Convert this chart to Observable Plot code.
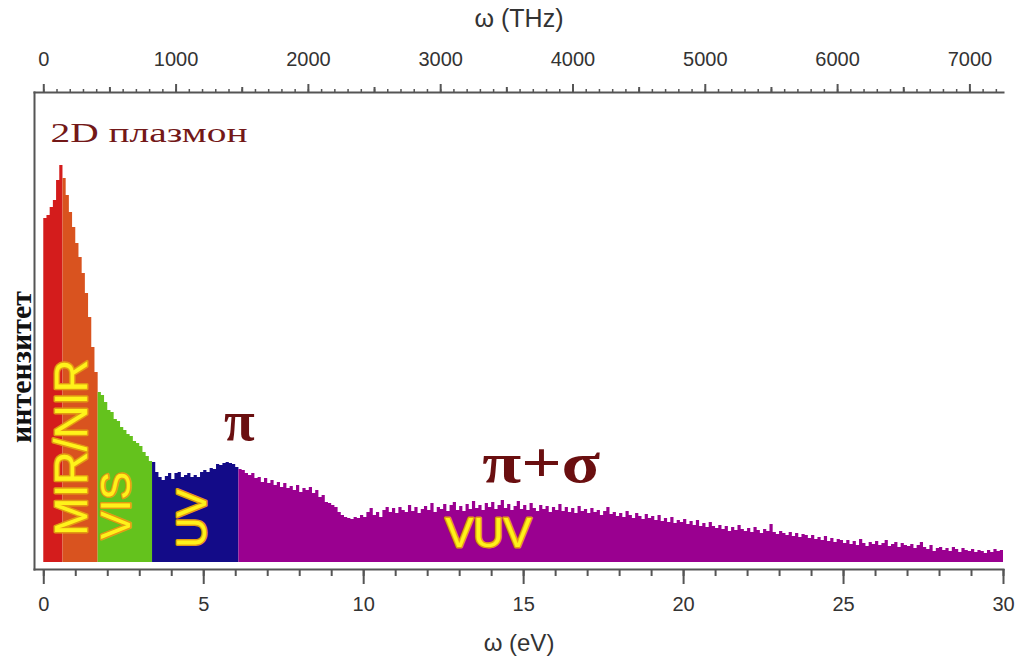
<!DOCTYPE html>
<html><head><meta charset="utf-8">
<script src="https://cdn.jsdelivr.net/npm/d3@7"></script>
<script src="https://cdn.jsdelivr.net/npm/@observablehq/plot@0.6"></script>
<style>body{margin:0;background:#fff}</style>
</head><body><div id="chart"></div>
<script>
// Spectrum intensity (arbitrary units), one value per 0.1 eV bin from 0.0 to 30.0 eV
const intensity = [
  344,347,355,362,382,397,384,367,350,335,
  319,305,289,269,245,215,190,170,167,160,
  152,150,143,141,135,132,128,126,121,119,
  116,110,106,101,100,90,85,82,86,89,
  83,89,90,85,87,89,85,87,85,90,
  92,90,94,93,98,97,99,100,99,98,
  95,93,92,89,87,89,84,85,80,84,
  79,82,77,80,75,79,74,76,72,77,
  70,74,72,75,69,72,65,67,60,59,
  57,55,50,47,45,44,43,45,44,47,
  45,50,54,47,50,45,52,55,50,54,
  49,55,52,50,57,51,55,49,53,56,
  52,59,50,55,53,58,51,57,60,52,
  56,51,58,53,61,54,57,52,59,55,
  60,53,57,62,54,58,52,56,61,53,
  57,52,59,54,51,57,53,56,50,55,
  52,58,51,55,50,54,49,56,51,53,
  49,54,50,52,47,51,55,48,50,46,
  49,45,51,47,44,49,46,43,48,44,
  46,42,47,41,44,40,45,39,42,40,
  43,38,41,37,42,36,39,35,40,36,
  34,37,33,36,31,35,32,37,33,31,
  34,30,35,32,29,33,31,38,30,28,
  31,29,27,30,26,29,25,28,27,24,
  27,23,25,22,26,21,24,20,23,22,
  19,22,18,21,17,23,19,16,20,18,
  21,17,19,22,16,18,20,15,19,17,
  16,18,14,17,20,15,13,17,11,14,
  15,12,14,11,15,13,10,14,12,11,
  13,10,12,11,9,12,10,13,11,12,
  12
];
const eV = intensity.map((_, i) => i / 10);

// Spectral regions
const regionNames  = ["MIR", "NIR", "VIS", "UV", "VUV"];
const regionStart  = [0, 0.6, 1.7, 3.4, 6.1];
const regionColors = ["#d41c1c", "#d9531f", "#64c21d", "#130b88", "#9a0090"];

// Axis ticks
const evTicks = [0, 5, 10, 15, 20, 25, 30];
const evMinor = d3.range(0, 31, 1);
const thzTicks = [0, 1000, 2000, 3000, 4000, 5000, 6000, 7000];
const thzMid = [500, 1500, 2500, 3500, 4500, 5500, 6500];
const thzMinor = d3.range(0, 7201, 100);
const THZ_PER_EV = 241.8;

// Annotations
const bandLabels = ["MIR/NIR", "VIS", "UV", "VUV"];
const bandX = [0.9, 2.27, 4.65, 13.9];
const bandY = [115, 57, 44, 29];
const bandRotate = [-90, -90, -90, 0];
const bandSize = [46, 42, 42, 42];
const peakLabels = ["π", "π+σ"];
const peakX = [6.11, 15.55];
const peakY = [140, 98];

const rows = [];
regionStart.forEach((s, r) => {
  const e = r + 1 < regionStart.length ? regionStart[r + 1] : 30;
  eV.forEach((x, i) => {
    if (x >= s - 1e-9 && x <= e + 1e-9) rows.push({eV: x, I: intensity[i], region: regionNames[r], color: regionColors[r]});
  });
});
const bands = bandLabels.map((t, i) => ({t, x: bandX[i], y: bandY[i], r: bandRotate[i], s: bandSize[i]}));
const peaks = peakLabels.map((t, i) => ({t, x: peakX[i], y: peakY[i]}));

const axisColor = "#555";
const sans = "'Liberation Sans', Arial, sans-serif";
const serif = "'Liberation Serif', 'Times New Roman', serif";

const plot = Plot.plot({
  width: 1017, height: 659,
  marginLeft: 34, marginRight: 14, marginTop: 92, marginBottom: 90,
  x: {domain: [-0.29, 30]},
  y: {domain: [-7, 470], axis: null},
  style: {fontFamily: sans, color: "#333", background: "#fff"},
  marks: [
    Plot.areaY(rows, {x: "eV", y1: 0, y2: "I", z: "region", fill: "color", curve: "step-after"}),
    Plot.frame({anchor: "left", stroke: axisColor, strokeWidth: 2}),
    Plot.frame({anchor: "top", stroke: axisColor, strokeWidth: 2}),
    Plot.frame({anchor: "bottom", stroke: axisColor, strokeWidth: 2}),
    // bottom eV axis
    Plot.axisX(evTicks, {anchor: "bottom", tickSize: 15, tickPadding: 12, fontSize: 20, stroke: axisColor, strokeWidth: 2, fill: "#333", label: null}),
    Plot.axisX(evMinor, {anchor: "bottom", tickSize: 7, tickFormat: () => "", stroke: axisColor, strokeWidth: 2, label: null}),
    Plot.text(["ω (eV)"], {frameAnchor: "bottom", lineAnchor: "middle", dy: 74, fontSize: 24, fill: "#333"}),
    // top THz axis
    Plot.axisX(thzTicks.map(t => t / THZ_PER_EV), {anchor: "top", tickSize: 9, tickPadding: 18, fontSize: 20, stroke: axisColor, strokeWidth: 2, fill: "#333", label: null, tickFormat: d => String(Math.round(d * THZ_PER_EV))}),
    Plot.axisX(thzMid.map(t => t / THZ_PER_EV), {anchor: "top", tickSize: 6, tickFormat: () => "", stroke: axisColor, strokeWidth: 2, label: null}),
    Plot.axisX(thzMinor.map(t => t / THZ_PER_EV), {anchor: "top", tickSize: 4, tickFormat: () => "", stroke: axisColor, strokeWidth: 1.5, label: null}),
    Plot.text(["ω (THz)"], {frameAnchor: "top", lineAnchor: "middle", dy: -74, fontSize: 25, fill: "#333"}),
    // y label
    Plot.text(["интензитет"], {frameAnchor: "left", textAnchor: "middle", lineAnchor: "middle", rotate: -90, dx: -13, dy: 36, fontSize: 30, fontWeight: "bold", fontFamily: serif, fill: "#111"}),
    // annotations
    Plot.text(["2D плазмон"], {x: [0.21], y: [429], textAnchor: "start", fontSize: 28, fontFamily: serif, fill: "#731818"}),
    Plot.text(peaks, {x: "x", y: "y", text: "t", fontSize: 56, fontWeight: "bold", fontFamily: serif, fill: "#6a0f10"}),
    Plot.text(bands, {x: "x", y: "y", text: "t", rotate: "r", fontSize: "s", fontFamily: sans, fill: "#fff21a", stroke: "#e29a12", strokeWidth: 3, paintOrder: "stroke"})
  ]
});
// stretch two labels horizontally to the reference's wider lettering
plot.querySelectorAll("text").forEach(t => {
  if (t.textContent === "2D плазмон") { t.setAttribute("textLength", 197); t.setAttribute("lengthAdjust", "spacingAndGlyphs"); }
  if (t.textContent === "π+σ") { t.setAttribute("textLength", 118); t.setAttribute("lengthAdjust", "spacingAndGlyphs"); }
});
document.getElementById("chart").append(plot);
</script>
</body></html>
